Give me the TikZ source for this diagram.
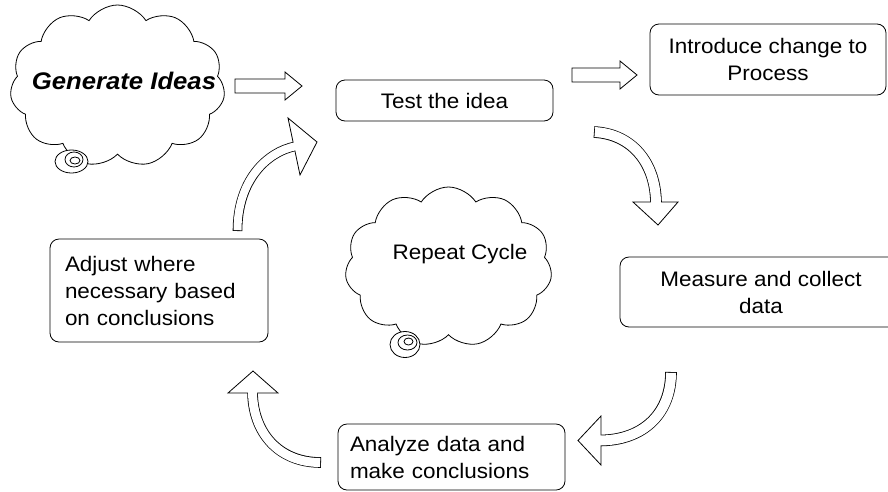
\documentclass[tikz,border=0pt]{standalone}
\usepackage{fontspec}
\setmainfont{Liberation Sans}[FakeStretch=1.07]
\usetikzlibrary{shapes.symbols}
\tikzset{
  lw/.style={line width=0.8pt},
  box/.style={draw, lw, rounded corners=9pt, fill=white, inner sep=0pt,
    font=\fontsize{21}{27}\selectfont},
  thought/.style={cloud, cloud puffs=11, cloud puff arc=115, cloud ignores aspect,
    draw, lw, fill=white, inner sep=0pt},
  bubble/.style={draw, lw, fill=white},
  blockarrow/.style={draw, lw, fill=white, line join=miter},
}
\begin{document}
\begin{tikzpicture}[x=1pt, y=-1pt]
\useasboundingbox (0,0) rectangle (888,491);
\clip (0,0) rectangle (888,491);

% clouds
\node[thought, minimum width=215pt, minimum height=162pt] (gencloud) at (117.5,86) {};
\draw[bubble] (71.5,161.5) ellipse [x radius=16.5pt, y radius=11.5pt];
\draw[bubble] (74,159.5) ellipse [x radius=9pt, y radius=7.5pt];
\draw[bubble] (75,160.5) ellipse [x radius=5pt, y radius=3.5pt];
\node[font=\fontsize{24}{28}\selectfont\bfseries\itshape] (gen) at (124,81) {Generate Ideas};

\node[thought, cloud puffs=11, minimum width=207pt, minimum height=160pt] (repcloud) at (448.5,267) {};
\draw[bubble] (405,344.5) ellipse [x radius=15pt, y radius=13pt];
\draw[bubble] (407.5,342.5) ellipse [x radius=9.5pt, y radius=7.5pt];
\draw[bubble] (408.5,341.5) ellipse [x radius=4.5pt, y radius=3.5pt];
\node[font=\fontsize{21}{27}\selectfont] (rep) at (460,254) {Repeat Cycle};

% boxes
\node[box, minimum width=217pt, minimum height=41pt] (test) at (444.5,100.5) {Test the idea};
\node[box, minimum width=236pt, minimum height=71pt, align=center] (intro) at (768,59.5) {Introduce change to\\Process};
\node[box, minimum width=282pt, minimum height=70pt, align=center] (meas) at (761,292) {Measure and collect\\data};
\node[box, minimum width=218pt, minimum height=103pt, text width=188pt, inner xsep=15pt, align=left] (adj) at (159,290.5) {Adjust where\\necessary based\\on conclusions};
\node[box, minimum width=227pt, minimum height=66pt, text width=203pt, inner xsep=12pt, align=left] (ana) at (451.5,457) {Analyze data and\\make conclusions};

% straight block arrows
\draw[blockarrow] (235,79) -- (285,79) -- (285,72) -- (302,86) -- (285,100) -- (285,93) -- (235,93) -- cycle;
\draw[blockarrow] (572,68) -- (620,68) -- (620,61) -- (637,75) -- (620,89) -- (620,82) -- (572,82) -- cycle;

% curved block arrows: outline, head, inner
% A: up-right
\draw[line width=9.6pt] (237.5,231) .. controls (237.5,181) and (266,152) .. (296,146.1);
\draw[blockarrow] (288,118) -- (317,142) -- (300,175) -- cycle;
\draw[white, line width=8pt, shorten <=0.8pt] (237.5,231) .. controls (237.5,181) and (266,152) .. (296,146.1);
% B: down-right
\draw[line width=11.6pt] (594,132) .. controls (632,134) and (656,163) .. (656,204);
\draw[blockarrow] (633,202) -- (658,225) -- (678,202) -- cycle;
\draw[white, line width=10pt, shorten <=0.8pt] (594,132) .. controls (632,134) and (656,163) .. (656,204);
% C: down-left
\draw[line width=11.6pt] (671,372) .. controls (671,412) and (645,440.5) .. (599,440.5);
\draw[blockarrow] (601,416) -- (578,440.5) -- (601,465) -- cycle;
\draw[white, line width=10pt, shorten <=0.8pt] (671,372) .. controls (671,412) and (645,440.5) .. (599,440.5);
% D: up-left
\draw[line width=10.6pt] (321,462.5) .. controls (278,462.5) and (252.5,432) .. (252.5,391);
\draw[blockarrow] (228,393) -- (253,371) -- (278,393) -- cycle;
\draw[white, line width=9pt, shorten <=0.8pt] (321,462.5) .. controls (278,462.5) and (252.5,432) .. (252.5,391);
\end{tikzpicture}
\end{document}
